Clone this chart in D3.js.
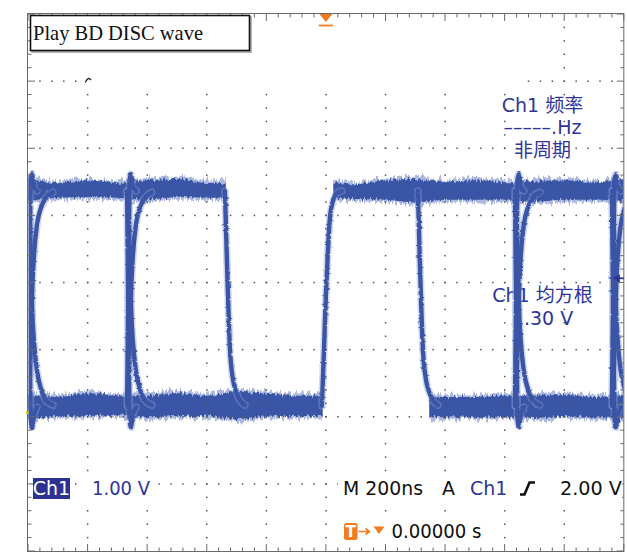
<!DOCTYPE html>
<html>
<head>
<meta charset="utf-8">
<script src="https://cdn.jsdelivr.net/npm/d3@7"></script>
<style>
  html, body { margin: 0; padding: 0; background: #fff; }
  svg { display: block; }
</style>
</head>
<body>
<svg id="scope" width="627" height="556"></svg>
<script>
// ---- Acquisition settings ----
const timePerDiv = 200;          // ns / div
const voltsPerDiv = 1.0;         // V / div
const hDivs = 10;
const vDivs = 8;
const groundDivsFromBottom = 2.063;
const triggerLevel = 2.0;        // V

// ---- Persistence bands: envelope (V) every 100 ns ----
const envTimes   = [-1000, -900, -800, -700, -600, -500, -400, -300, -200, -100, 0,
                    100, 200, 300, 400, 500, 600, 700, 800, 900, 1000];
const highTop    = [3.49, 3.42, 3.46, 3.42, 3.46, 3.48, 3.42, 3.42, 3.42, 3.42, 3.42,
                    3.40, 3.46, 3.48, 3.43, 3.46, 3.43, 3.45, 3.46, 3.43, 3.48];
const highBottom = [3.15, 3.20, 3.21, 3.20, 3.17, 3.21, 3.20, 3.20, 3.20, 3.20, 3.20,
                    3.18, 3.17, 3.13, 3.17, 3.17, 3.17, 3.14, 3.17, 3.17, 3.15];
const lowTop     = [0.26, 0.23, 0.29, 0.25, 0.25, 0.29, 0.25, 0.31, 0.28, 0.25, 0.25,
                    0.25, 0.25, 0.25, 0.23, 0.23, 0.25, 0.25, 0.26, 0.23, 0.26];
const lowBottom  = [-0.11, -0.05, -0.05, -0.04, -0.07, -0.05, -0.05, -0.10, -0.05, -0.05, -0.05,
                    -0.06, -0.06, -0.06, -0.07, -0.07, -0.07, -0.08, -0.05, -0.07, -0.08];
// time spans (ns) where each level is occupied
const highSegments = [[-1000, -336], [25, 1000]];
const lowSegments  = [[-1000, -11], [347, 1000]];

// ---- Edges (start times in ns) ----
const dualEdgeTimes = [-996.6, -664.4, 637.6, 963.1];  // both directions overlap here
const fallEdgeTimes = [-338.9, 308.7];
const riseEdgeTimes = [-13.4];                          // triggering edge

// edge shapes: [ns after edge start, V]
const riseShape     = [[0, 0.10], [6.7, 0.9], [13.4, 1.75], [20.1, 2.4], [26.8, 2.9], [36.9, 3.15], [50.3, 3.27], [67.1, 3.30]];
const fallShape     = [[0, 3.30], [6.7, 2.25], [16.8, 0.95], [26.8, 0.50], [36.9, 0.32], [50.3, 0.18], [67.1, 0.11]];
const slowRiseShape = [[0, 0.10], [5, 0.9], [10, 1.75], [16.8, 2.35], [26.8, 2.80], [40.3, 3.05], [57, 3.20], [80.5, 3.28]];
const slowFallShape = [[0, 3.30], [5, 2.5], [10, 1.6], [16.8, 1.05], [26.8, 0.62], [40.3, 0.35], [57, 0.18], [80.5, 0.11]];
const sharpRise     = [[-3, 0.10], [1, 1.7], [5, 3.45], [10, 3.55], [17, 3.36], [27, 3.30]];
const sharpFall     = [[-3, 3.30], [1, 1.7], [5, -0.05], [10, -0.22], [17, -0.03], [27, 0.08]];

// ---- Readouts ----
const titleText   = "Play BD DISC wave";
const measFreq    = ["Ch1 频率", "–––––.Hz", "非周期"];
const measRms     = ["Ch1 均方根", "1.30 V"];
const chLabel     = "Ch1";
const chScale     = "1.00 V";
const timebase    = "M 200ns";
const trigMode    = "A";
const trigSource  = "Ch1";
const trigLevelTx = "2.00 V";
const trigPosTx   = "0.00000 s";

// ---- Colours ----
const traceColor = "#3b55a6";
const haloColor  = "#8fa0d4";
const textBlue   = "#30349a";
const markOrange = "#f07c22";
const gridColor  = "#555";

const svg = d3.select("#scope");
const pL = 28, pR = 623.8, pT = 14, pB = 551;

const x = d3.scaleLinear()
  .domain([-hDivs / 2 * timePerDiv, hDivs / 2 * timePerDiv])
  .range([pL, pR]);
const y = d3.scaleLinear()
  .domain([-groundDivsFromBottom * voltsPerDiv, (vDivs - groundDivsFromBottom) * voltsPerDiv])
  .range([pB, pT]);

const defs = svg.append("defs");
defs.append("clipPath").attr("id", "plotClip")
  .append("rect").attr("x", pL + 0.5).attr("y", pT).attr("width", pR - pL - 1).attr("height", pB - pT);

function grassFilter(id, scale, freq, seed) {
  const f = defs.append("filter").attr("id", id)
    .attr("filterUnits", "userSpaceOnUse")
    .attr("x", 0).attr("y", 0).attr("width", 627).attr("height", 556);
  f.append("feTurbulence").attr("type", "fractalNoise")
    .attr("baseFrequency", freq).attr("numOctaves", 2).attr("seed", seed).attr("result", "n");
  f.append("feDisplacementMap").attr("in", "SourceGraphic").attr("in2", "n")
    .attr("scale", scale).attr("xChannelSelector", "B").attr("yChannelSelector", "R");
}
grassFilter("grassHalo", 12, "0.45 0.03", 4);
grassFilter("grassCore", 7, "0.5 0.04", 9);
grassFilter("jitter", 2.5, "0.08 0.3", 2);

svg.append("rect").attr("width", 627).attr("height", 556).attr("fill", "#fff");

// ---- Measurement readouts (drawn beneath the trace) ----
const measFont = "'DejaVu Sans', 'Noto Sans CJK SC', sans-serif";
const measX = 542.5;
function measBlock(lines, baselines) {
  lines.forEach((s, i) => svg.append("text").attr("text-anchor", "middle").attr("font-family", measFont)
    .attr("font-size", 19).attr("fill", textBlue)
    .attr("x", measX).attr("y", baselines[i]).text(s));
}
measBlock(measFreq, [112.2, 134.4, 156.6]);
measBlock(measRms, [302.4, 324.6]);

// ---- Waveform ----
const wave = svg.append("g").attr("clip-path", "url(#plotClip)");
let clipCount = 0;

function bandLayer(segments, topArr, botArr, pad, fill, filter, opacity) {
  const g = wave.append("g");
  segments.forEach(seg => {
    const cid = "segClip" + (clipCount++);
    const x0 = seg[0] <= -1000 ? 0 : x(seg[0]);
    const x1 = seg[1] >= 1000 ? 627 : x(seg[1]);
    defs.append("clipPath").attr("id", cid).append("rect")
      .attr("x", x0).attr("y", 0).attr("width", x1 - x0).attr("height", 556);
    const area = d3.area()
      .x((d, i) => x(envTimes[i]))
      .y0((d, i) => y(botArr[i]) + pad)
      .y1((d, i) => y(topArr[i]) - pad)
      .curve(d3.curveMonotoneX);
    g.append("g").attr("clip-path", `url(#${cid})`)
      .append("path").attr("d", area(envTimes))
      .attr("fill", fill).attr("opacity", opacity).attr("filter", `url(#${filter})`);
  });
}
bandLayer(highSegments, highTop, highBottom, 2.5, haloColor, "grassHalo", 0.75);
bandLayer(lowSegments, lowTop, lowBottom, 2.5, haloColor, "grassHalo", 0.75);
bandLayer(highSegments, highTop, highBottom, 0, traceColor, "grassCore", 1);
bandLayer(lowSegments, lowTop, lowBottom, 0, traceColor, "grassCore", 1);

const line = d3.line().x(d => x(d[0])).y(d => y(d[1])).curve(d3.curveMonotoneX);
const edges = [];
dualEdgeTimes.forEach(t0 => {
  [slowRiseShape, slowFallShape, sharpRise, sharpFall].forEach(s => edges.push(s.map(([dt, v]) => [t0 + dt, v])));
});
fallEdgeTimes.forEach(t0 => edges.push(fallShape.map(([dt, v]) => [t0 + dt, v])));
riseEdgeTimes.forEach(t0 => edges.push(riseShape.map(([dt, v]) => [t0 + dt, v])));

const edgeG = wave.append("g").attr("filter", "url(#jitter)");
edgeG.selectAll("path.halo").data(edges).join("path").attr("class", "halo")
  .attr("d", line).attr("fill", "none").attr("stroke", haloColor)
  .attr("stroke-width", 7.5).attr("stroke-opacity", 0.4).attr("stroke-linecap", "round");
edgeG.selectAll("path.core").data(edges).join("path").attr("class", "core")
  .attr("d", line).attr("fill", "none").attr("stroke", traceColor)
  .attr("stroke-width", 4.4).attr("stroke-linecap", "round");

// ---- Graticule ----
const grid = svg.append("g").attr("fill", gridColor);
const minorT = d3.range(-1000, 1000.01, timePerDiv / 5);
const majorT = d3.range(-800, 800.01, timePerDiv);
const divPx = (pB - pT) / vDivs;
const minorY = d3.range(1, vDivs * 5).map(j => pT + j * divPx / 5);
const majorY = d3.range(1, vDivs).map(m => pT + m * divPx);

majorT.forEach(t => minorY.forEach(yy => {
  grid.append("rect").attr("x", x(t) - 0.7).attr("y", yy - 0.7).attr("width", 1.5).attr("height", 1.5);
}));
majorY.forEach(yy => minorT.slice(1, -1).forEach(t => {
  grid.append("rect").attr("x", x(t) - 0.7).attr("y", yy - 0.7).attr("width", 1.5).attr("height", 1.5);
}));

// clear band behind the title
svg.append("rect").attr("x", 80).attr("y", 23).attr("width", 442).attr("height", 65).attr("fill", "#fff");

// border with inward ticks
const border = svg.append("g").attr("stroke", "#6a6a6a").attr("stroke-width", 1).attr("fill", "none");
border.append("rect").attr("x", pL - 0.5).attr("y", pT - 0.5)
  .attr("width", pR - pL + 0.5).attr("height", pB - pT + 1);
minorT.forEach((t, i) => {
  const len = i % 5 === 0 ? 7 : 3.5;
  border.append("line").attr("x1", x(t)).attr("x2", x(t)).attr("y1", pT).attr("y2", pT + len);
  border.append("line").attr("x1", x(t)).attr("x2", x(t)).attr("y1", pB).attr("y2", pB - len);
});
d3.range(0, vDivs * 5 + 1).forEach(j => {
  const yy = pT + j * divPx / 5;
  const len = j % 5 === 0 ? 7 : 3.5;
  border.append("line").attr("x1", pL).attr("x2", pL + len).attr("y1", yy).attr("y2", yy);
  border.append("line").attr("x1", pR).attr("x2", pR - len).attr("y1", yy).attr("y2", yy);
});

// stray glyph fragment
svg.append("path").attr("d", "M91,80 Q88,76 85.3,82.5").attr("fill", "none")
  .attr("stroke", "#222").attr("stroke-width", 1.3);

// ---- Title box ----
svg.append("rect").attr("x", 32).attr("y", 17).attr("width", 219).attr("height", 35).attr("fill", "none")
  .attr("stroke", "#9a9a9a").attr("stroke-width", 1.5);
svg.append("rect").attr("x", 30.5).attr("y", 15.5).attr("width", 219).attr("height", 35).attr("fill", "#fff")
  .attr("stroke", "#111").attr("stroke-width", 1.6);
svg.append("text").attr("x", 33).attr("y", 40).attr("font-family", "'Liberation Serif', serif")
  .attr("font-size", 21).attr("textLength", 170).attr("lengthAdjust", "spacingAndGlyphs")
  .attr("fill", "#111").text(titleText);

// ---- Trigger position marker ----
svg.append("path").attr("d", `M${x(0) - 6.5},${pT} L${x(0) + 6.5},${pT} L${x(0)},${pT + 8} Z`).attr("fill", markOrange);
svg.append("line").attr("x1", x(0) - 7).attr("x2", x(0) + 7).attr("y1", pT + 11.5).attr("y2", pT + 11.5)
  .attr("stroke", markOrange).attr("stroke-width", 1.8);

// ---- Trigger level marker ----
const ty = y(triggerLevel);
svg.append("path").attr("d", `M${pR - 11},${ty} L${pR - 4},${ty - 4} L${pR - 4},${ty + 4} Z`).attr("fill", textBlue);
svg.append("line").attr("x1", pR - 5).attr("x2", pR).attr("y1", ty).attr("y2", ty)
  .attr("stroke", textBlue).attr("stroke-width", 1.8);

// ---- Ground marker ----
svg.append("rect").attr("x", pL - 2).attr("y", y(0) - 1.5).attr("width", 2.5).attr("height", 3).attr("fill", "#e8c400");

// ---- Bottom readouts ----
const roFont = "'DejaVu Sans', sans-serif";
const roSize = 19;
const roBase = 495;
svg.append("rect").attr("x", 86).attr("y", 476).attr("width", 68).attr("height", 24).attr("fill", "#fff");
svg.append("rect").attr("x", 338).attr("y", 476).attr("width", 284).attr("height", 24).attr("fill", "#fff");
svg.append("rect").attr("x", 340).attr("y", 520).attr("width", 146).attr("height", 24).attr("fill", "#fff");

svg.append("rect").attr("x", 33).attr("y", 478).attr("width", 37).attr("height", 21).attr("fill", "#2c3192");
svg.append("text").attr("x", 51.5).attr("y", roBase).attr("text-anchor", "middle")
  .attr("font-family", roFont).attr("font-size", roSize).attr("fill", "#fff").text(chLabel);
svg.append("text").attr("x", 92).attr("y", roBase).attr("font-family", roFont).attr("font-size", roSize)
  .attr("fill", textBlue).attr("textLength", 58).attr("lengthAdjust", "spacingAndGlyphs").text(chScale);
svg.append("text").attr("x", 343).attr("y", roBase).attr("font-family", roFont).attr("font-size", roSize)
  .attr("fill", "#111").attr("textLength", 80).attr("lengthAdjust", "spacingAndGlyphs").text(timebase);
svg.append("text").attr("x", 442).attr("y", roBase).attr("font-family", roFont).attr("font-size", roSize)
  .attr("fill", "#111").text(trigMode);
svg.append("text").attr("x", 470).attr("y", roBase).attr("font-family", roFont).attr("font-size", roSize)
  .attr("fill", textBlue).text(trigSource);
svg.append("path").attr("d", "M520,494.5 H524.5 L529.5,482.5 H535").attr("fill", "none")
  .attr("stroke", "#111").attr("stroke-width", 2.6);
svg.append("text").attr("x", 560).attr("y", roBase).attr("font-family", roFont).attr("font-size", roSize)
  .attr("fill", "#111").attr("textLength", 62).attr("lengthAdjust", "spacingAndGlyphs").text(trigLevelTx);

// trigger position readout
svg.append("rect").attr("x", 344).attr("y", 523).attr("width", 13.5).attr("height", 17).attr("rx", 2).attr("fill", markOrange);
svg.append("text").attr("x", 350.7).attr("y", 537).attr("text-anchor", "middle").attr("font-family", roFont)
  .attr("font-size", 15).attr("font-weight", "bold").attr("fill", "#fff").text("T");
svg.append("path").attr("d", "M358.5,531.5 H369 M365.5,528.5 L369.5,531.5 L365.5,534.5").attr("fill", "none")
  .attr("stroke", markOrange).attr("stroke-width", 1.6);
svg.append("path").attr("d", "M373.5,526.5 L384.5,526.5 L379,534 Z").attr("fill", markOrange);
svg.append("text").attr("x", 391.5).attr("y", 538).attr("font-family", roFont).attr("font-size", roSize)
  .attr("fill", "#111").attr("textLength", 90).attr("lengthAdjust", "spacingAndGlyphs").text(trigPosTx);
</script>
</body>
</html>
